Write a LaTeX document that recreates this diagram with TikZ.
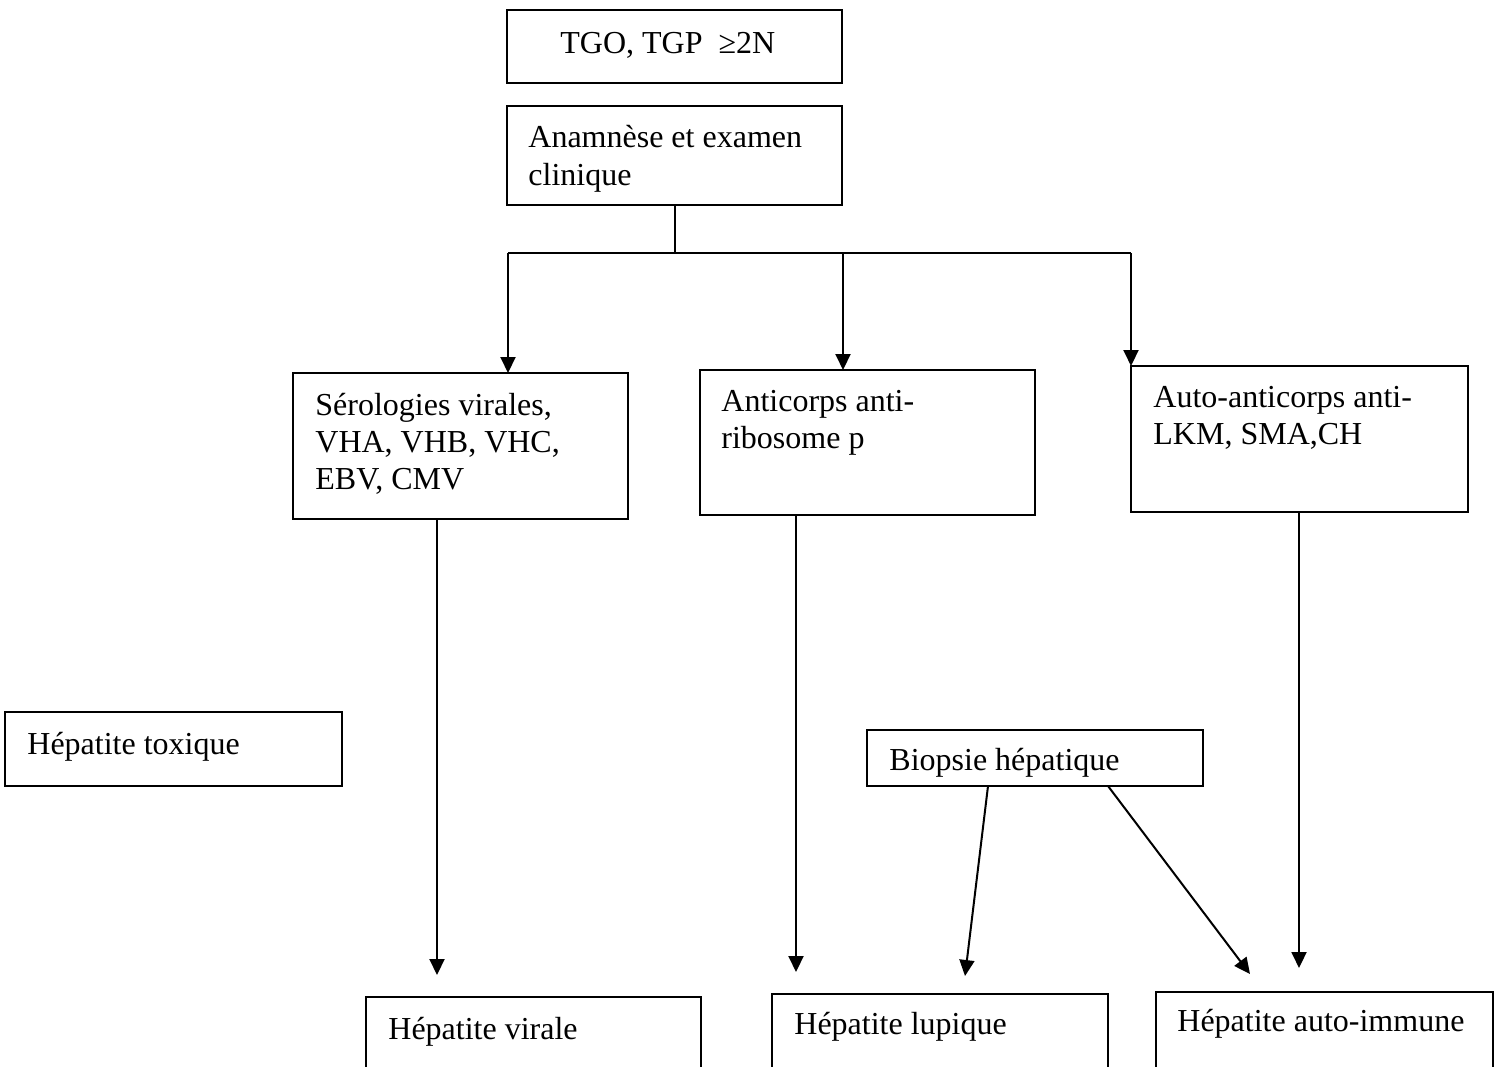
\documentclass[tikz,border=0pt]{standalone}
\usepackage{fontspec}
\setmainfont{Liberation Serif}
\usetikzlibrary{arrows.meta}
\begin{document}
\begin{tikzpicture}[x=0.5pt,y=-0.5pt,
  box/.style={draw, line width=1pt, anchor=north west, inner sep=0pt, outer sep=0pt},
  txt/.style={anchor=base west, inner sep=0pt, font=\fontsize{16}{18.5}\selectfont},
  link/.style={line width=1pt},
  arr/.style={line width=1pt, -{Triangle[length=8pt,width=7.5pt]}}]
\useasboundingbox (0,0) rectangle (1502,1066);
\clip (0,0) rectangle (1502,1066);
% boxes
\node[box, minimum width=167.5pt, minimum height=36.5pt] (tgo) at (507,10) {};
\node[box, minimum width=167.5pt, minimum height=49.5pt] (anam) at (507,106) {};
\node[box, minimum width=167.5pt, minimum height=73pt] (sero) at (293,373) {};
\node[box, minimum width=167.5pt, minimum height=72.5pt] (anti) at (700,370) {};
\node[box, minimum width=168.5pt, minimum height=73pt] (auto) at (1131,366) {};
\node[box, minimum width=168.5pt, minimum height=37pt] (tox) at (5,712) {};
\node[box, minimum width=168pt, minimum height=28pt] (bio) at (867,730) {};
\node[box, minimum width=167.5pt, minimum height=50pt] (vir) at (366,997) {};
\node[box, minimum width=168pt, minimum height=50pt] (lup) at (772,994) {};
\node[box, minimum width=168.5pt, minimum height=50pt] (ai) at (1156,992) {};
% texts
\node[txt] (t-tgo) at (560,53) {TGO, TGP\ \ ≥2N};
\node[txt] (t-anam1) at (528,147) {Anamnèse et examen};
\node[txt] (t-anam2) at (528,185) {clinique};
\node[txt] (t-sero1) at (315,415) {Sérologies virales,};
\node[txt] (t-sero2) at (315,452) {VHA, VHB, VHC,};
\node[txt] (t-sero3) at (315,489) {EBV, CMV};
\node[txt] (t-anti1) at (721,411) {Anticorps anti-};
\node[txt] (t-anti2) at (721,448) {ribosome p};
\node[txt] (t-auto1) at (1153,407) {Auto-anticorps anti-};
\node[txt] (t-auto2) at (1153,444) {LKM, SMA,CH};
\node[txt] (t-tox) at (27,754) {Hépatite toxique};
\node[txt] (t-bio) at (889,770) {Biopsie hépatique};
\node[txt] (t-vir) at (388,1039) {Hépatite virale};
\node[txt] (t-lup) at (794,1034) {Hépatite lupique};
\node[txt] (t-ai) at (1177,1031) {Hépatite auto-immune};
% branching
\coordinate (j) at (675,253);
\coordinate (b1) at (508,253);
\coordinate (b2) at (843,253);
\coordinate (b3) at (1131,253);
\draw[link] (anam.south -| j) -- (j);
\draw[link] (b1) -- (b3);
\draw[arr] (b1) -- (b1 |- sero.north);
\draw[arr] (b2) -- (b2 |- anti.north);
\draw[arr] (b3) -- (b3 |- auto.north);
% lower arrows
\coordinate (e1) at (437,975);
\coordinate (e2) at (796,972);
\coordinate (e3) at (1299,968);
\coordinate (e4) at (965,976);
\coordinate (e5) at (1250,974);
\coordinate (s4) at (988,786);
\coordinate (s5) at (1108,786);
\draw[arr] (e1 |- sero.south) -- (e1);
\draw[arr] (e2 |- anti.south) -- (e2);
\draw[arr] (e3 |- auto.south) -- (e3);
\draw[arr] (s4 |- bio.south) -- (e4);
\draw[arr] (s5 |- bio.south) -- (e5);
\end{tikzpicture}
\end{document}
